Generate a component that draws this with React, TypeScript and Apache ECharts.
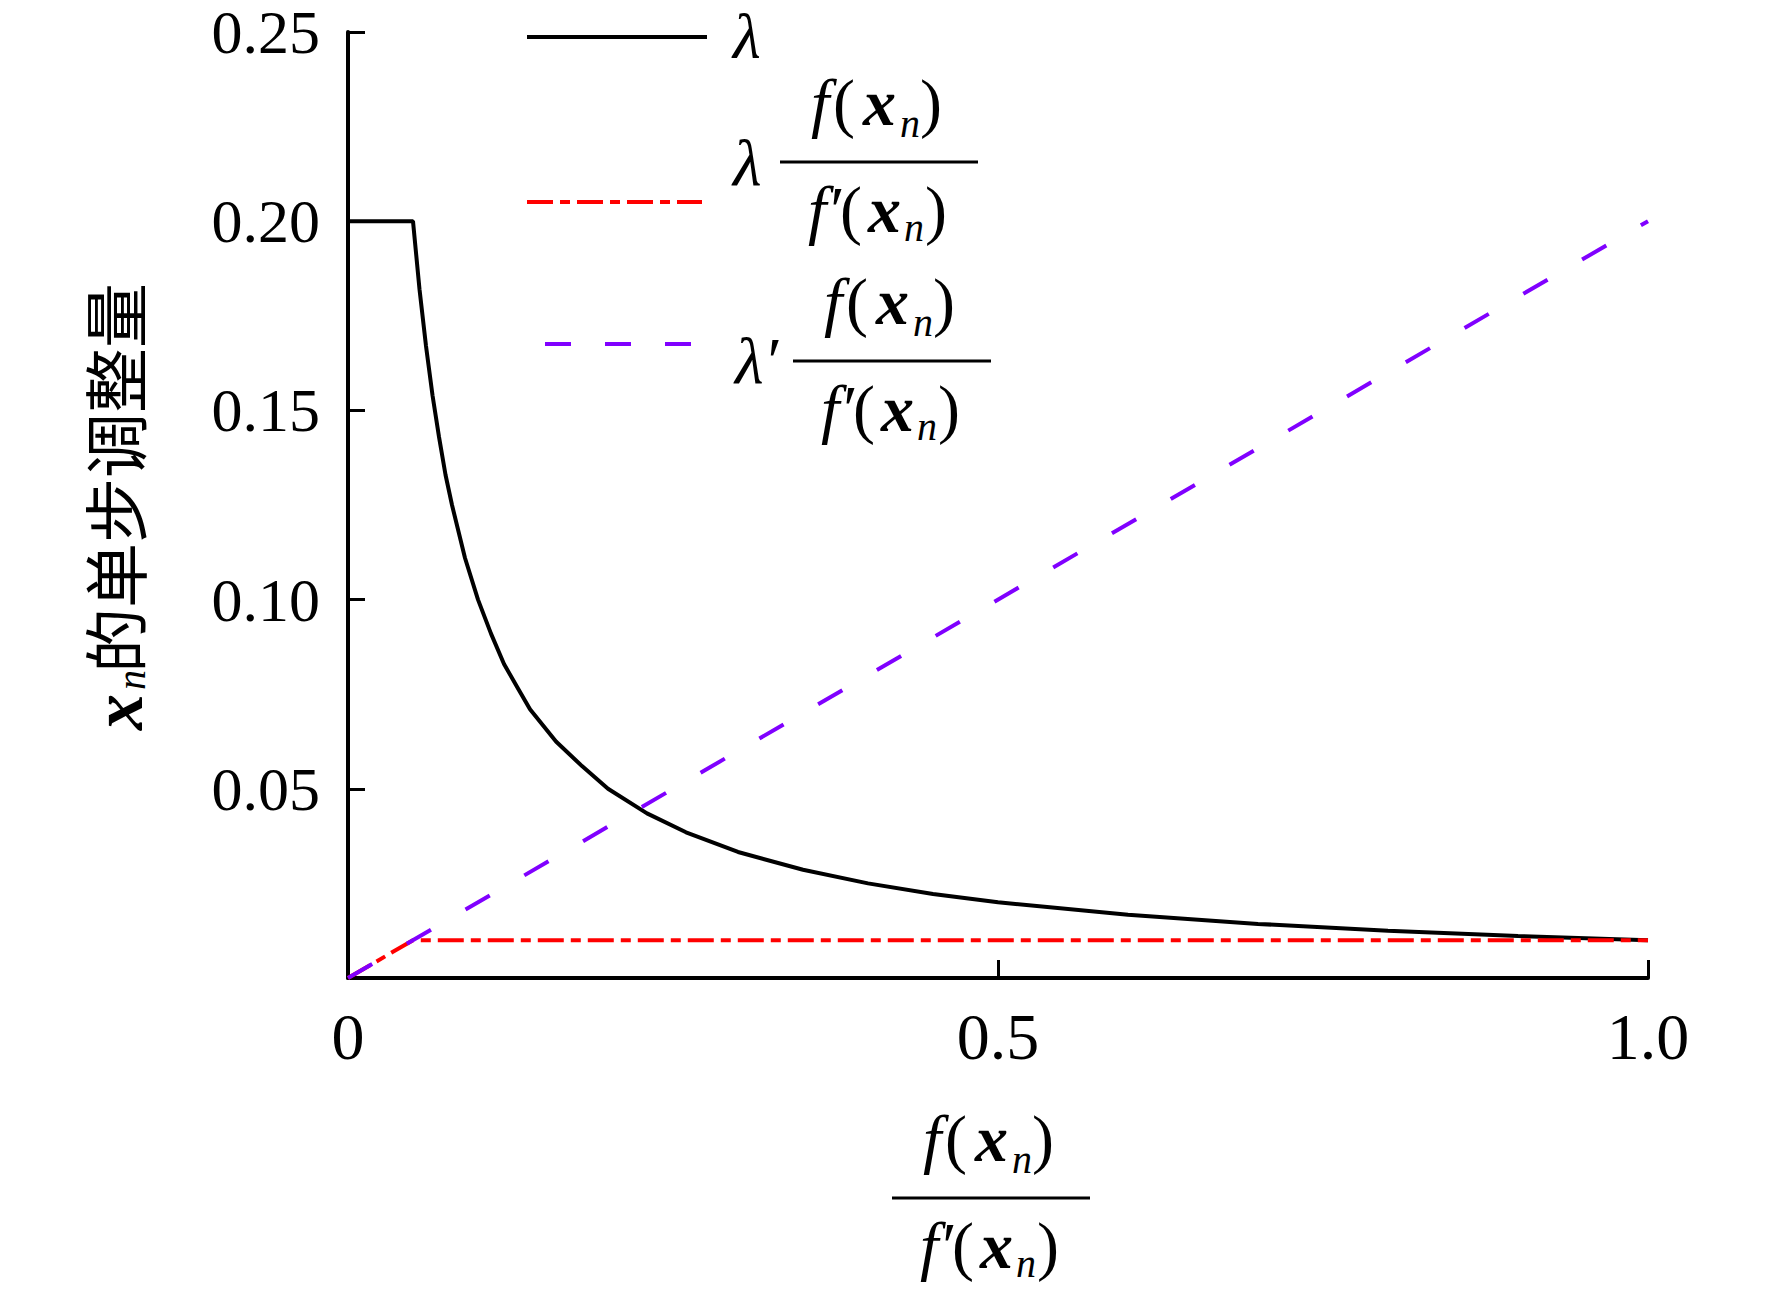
import React, { useEffect, useRef } from "react";
import * as echarts from "echarts";

// ---- data ----
const xTickValues = [0, 0.5, 1.0];
const yTickValues = [0.05, 0.1, 0.15, 0.2, 0.25];

const lambdaX = [0, 0.05, 0.055, 0.06, 0.065, 0.07, 0.075, 0.08, 0.09, 0.1, 0.11, 0.12, 0.13, 0.14, 0.16, 0.18, 0.2, 0.23, 0.26, 0.3, 0.35, 0.4, 0.45, 0.5, 0.6, 0.7, 0.8, 0.9, 1.0];
const lambdaY = [0.2, 0.2, 0.182, 0.167, 0.154, 0.143, 0.133, 0.125, 0.111, 0.1, 0.091, 0.083, 0.077, 0.071, 0.0625, 0.056, 0.05, 0.0435, 0.0385, 0.0333, 0.0286, 0.025, 0.0222, 0.02, 0.0167, 0.0143, 0.0125, 0.0111, 0.01];

const stepX = [0, 0.05, 1.0];
const stepY = [0, 0.01, 0.01];

const primeX = [0, 1.0];
const primeY = [0, 0.2];

const seriesNames = ["λ", "λ f(xn)/f′(xn)", "λ′ f(xn)/f′(xn)"];
const seriesColors = ["#000000", "#ff0000", "#8000ff"];
const yTitleParts = ["x", "n", "的单步调整量"];

const SERIF = '"Liberation Serif", "Times New Roman", serif';
const CJK = '"Noto Sans CJK SC", "Noto Sans CJK JP", sans-serif';

function pairs(xs: number[], ys: number[]) {
  return xs.map((x, i) => [x, ys[i]]);
}

function glyph(text: string, x: number, baseline: number, size: number, fontStyle = "normal", fontWeight = "normal") {
  return {
    type: "text",
    x,
    y: baseline - 0.3375 * size,
    silent: true,
    style: {
      text,
      fontFamily: SERIF,
      fontSize: size,
      fontStyle,
      fontWeight,
      fill: "#000",
      textAlign: "left",
      textVerticalAlign: "middle",
      align: "left",
      verticalAlign: "middle",
    },
  };
}

function fraction(bx: number, by: number) {
  const S = 66;
  const s = 40;
  const nb = by - 37;
  const nsb = by - 25;
  const db = by + 70;
  const dsb = by + 79;
  const nl = bx + 28;
  const dl = bx + 26;
  return [
    glyph("f", nl + 3, nb, S, "italic"),
    glyph("(", nl + 25, nb, S),
    glyph("x", nl + 55, nb, S, "italic", "bold"),
    glyph("n", nl + 92, nsb, s, "italic"),
    glyph(")", nl + 112, nb, S),
    { type: "rect", silent: true, shape: { x: bx, y: by - 1.5, width: 198, height: 3 }, style: { fill: "#000" } },
    glyph("f\u2032", dl + 2, db, S, "italic"),
    glyph("(", dl + 34, db, S),
    glyph("x", dl + 62, db, S, "italic", "bold"),
    glyph("n", dl + 98, dsb, s, "italic"),
    glyph(")", dl + 119, db, S),
  ];
}

export default function App() {
  const ref = useRef<HTMLDivElement>(null);

  useEffect(() => {
    document.body.style.margin = "0";
    if (!ref.current) return;
    const chart = echarts.init(ref.current, undefined, { renderer: "svg" });

    const legendLines = [
      { type: "line", silent: true, shape: { x1: 527, y1: 37, x2: 707, y2: 37 }, style: { stroke: seriesColors[0], lineWidth: 4 } },
      { type: "line", silent: true, shape: { x1: 527, y1: 202, x2: 702, y2: 202 }, style: { stroke: seriesColors[1], lineWidth: 4, lineDash: [26, 7, 10, 7] } },
      { type: "line", silent: true, shape: { x1: 545, y1: 344, x2: 692, y2: 344 }, style: { stroke: seriesColors[2], lineWidth: 4, lineDash: [26, 34] } },
    ];

    const legendTexts = [
      glyph("λ", 733, 58, 64, "italic"),
      glyph("λ", 733, 185, 66, "italic"),
      ...fraction(780, 162),
      glyph("λ\u2032", 735, 383, 66, "italic"),
      ...fraction(793, 361),
    ];

    const xTitle = fraction(892, 1198);

    const yTitle = {
      type: "group",
      x: 116,
      y: 733,
      rotation: Math.PI / 2,
      silent: true,
      children: [
        {
          type: "text",
          x: 3,
          y: 2,
          style: { text: yTitleParts[0], fontFamily: SERIF, fontSize: 72, fontStyle: "italic", fontWeight: "bold", fill: "#000", textAlign: "left", textVerticalAlign: "middle", align: "left", verticalAlign: "middle" },
        },
        {
          type: "text",
          x: 43,
          y: 15,
          style: { text: yTitleParts[1], fontFamily: SERIF, fontSize: 40, fontStyle: "italic", fill: "#000", textAlign: "left", textVerticalAlign: "middle", align: "left", verticalAlign: "middle" },
        },
        {
          type: "text",
          x: 60,
          y: -3,
          style: { text: yTitleParts[2], fontFamily: CJK, fontSize: 65, fill: "#000", textAlign: "left", textVerticalAlign: "middle", align: "left", verticalAlign: "middle" },
        },
      ],
    };

    const option: any = {
      animation: false,
      backgroundColor: "#ffffff",
      grid: { left: 348, right: 124, top: 32, bottom: 323, containLabel: false },
      xAxis: {
        type: "value",
        min: xTickValues[0],
        max: xTickValues[xTickValues.length - 1],
        interval: xTickValues[1] - xTickValues[0],
        axisLine: { show: true, onZero: false, lineStyle: { color: "#000", width: 4 } },
        axisTick: { show: true, inside: true, length: 18, lineStyle: { color: "#000", width: 3 } },
        axisLabel: {
          fontFamily: SERIF,
          fontSize: 66,
          color: "#000",
          margin: 25,
          formatter: (v: number) => (v === 0 ? "0" : v.toFixed(1)),
        },
        splitLine: { show: false },
      },
      yAxis: {
        type: "value",
        min: 0,
        max: yTickValues[yTickValues.length - 1],
        interval: yTickValues[0],
        axisLine: { show: true, onZero: false, lineStyle: { color: "#000", width: 4 } },
        axisTick: { show: true, inside: true, length: 17, lineStyle: { color: "#000", width: 3 } },
        axisLabel: {
          fontFamily: SERIF,
          fontSize: 62,
          lineHeight: 40,
          color: "#000",
          margin: 28,
          padding: [13, 0, 0, 0],
          formatter: (v: number) => (v === 0 ? "" : v.toFixed(2)),
        },
        splitLine: { show: false },
      },
      series: [
        {
          name: seriesNames[0],
          type: "line",
          data: pairs(lambdaX, lambdaY),
          showSymbol: false,
          symbol: "none",
          smooth: false,
          lineStyle: { color: seriesColors[0], width: 4 },
          z: 2,
        },
        {
          name: seriesNames[1],
          type: "line",
          data: pairs(stepX, stepY),
          showSymbol: false,
          symbol: "none",
          lineStyle: { color: seriesColors[1], width: 4, type: [26, 7, 10, 7] },
          z: 3,
        },
        {
          name: seriesNames[2],
          type: "line",
          data: pairs(primeX, primeY),
          showSymbol: false,
          symbol: "none",
          lineStyle: { color: seriesColors[2], width: 4, type: [28, 40] },
          z: 4,
        },
      ],
      graphic: [...legendLines, ...legendTexts, ...xTitle, yTitle],
    };

    chart.setOption(option);
    return () => chart.dispose();
  }, []);

  return <div ref={ref} style={{ width: 1772, height: 1301 }} />;
}
